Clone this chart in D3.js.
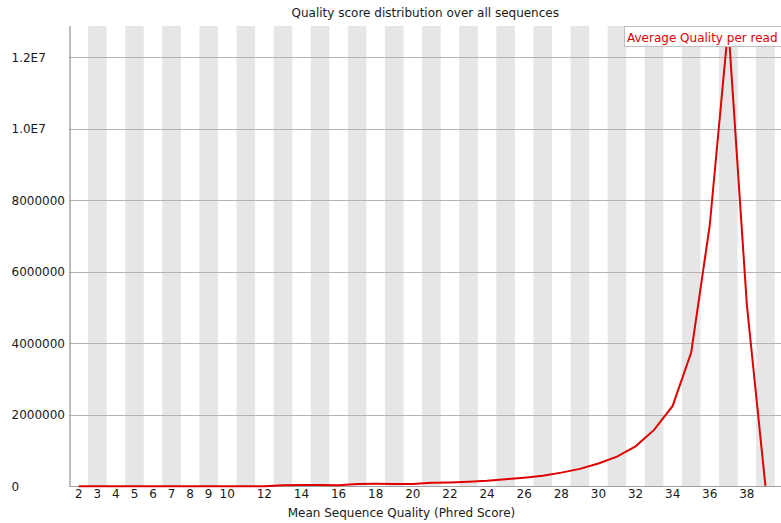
<!DOCTYPE html>
<html>
<head>
<meta charset="utf-8">
<script src="https://cdn.jsdelivr.net/npm/d3@7/dist/d3.min.js"></script>
<style>
  html, body { margin: 0; padding: 0; background: #fff; }
  svg { display: block; font-family: "DejaVu Sans", sans-serif; }
</style>
</head>
<body>
<svg id="chart" width="781" height="523"></svg>
<script>
// Mean Phred quality per read (x categories)
const qualities = ["2","3","4","5","6","7","8","9","10","11","12","13","14","15","16","17","18","19","20",
  "21","22","23","24","25","26","27","28","29","30","31","32","33","34","35","36","37","38","39"];

// Number of reads having each mean quality
const readCounts = [2000, 1500, 1200, 1500, 1800, 2000, 2500, 3000, 3500, 4500, 6000,
  35000, 38000, 36000, 30000, 70000, 72000, 70000, 68000,
  100000, 110000, 128000, 155000, 200000, 245000, 295000, 385000, 490000, 640000,
  830000, 1120000, 1580000, 2250000, 3740000, 7300000, 12870000, 5070000, 15000];

// Labels shown under the x axis
const xTickLabels = ["2","3","4","5","6","7","8","9","10","12","14","16","18","20",
  "22","24","26","28","30","32","34","36","38"];

// Y axis tick values
const yTickValues = [0, 2000000, 4000000, 6000000, 8000000, 10000000, 12000000];

const chartTitle = "Quality score distribution over all sequences";
const xAxisTitle = "Mean Sequence Quality (Phred Score)";
const seriesName = "Average Quality per read";

const W = 781, H = 523;
const plotLeft = 69.5, plotRight = 774.7, plotTop = 26, plotBottom = 486.4;

const svg = d3.select("#chart");

const x = d3.scaleBand().domain(qualities).range([plotLeft, plotRight]).padding(0);
const y = d3.scaleLinear().domain([0, d3.max(readCounts)]).range([plotBottom, plotTop]);

// alternating background stripes
svg.append("g")
  .selectAll("rect")
  .data(qualities.filter((d, i) => i % 2 === 1))
  .join("rect")
  .attr("x", d => x(d))
  .attr("y", plotTop)
  .attr("width", x.bandwidth())
  .attr("height", plotBottom - plotTop)
  .attr("fill", "#e6e6e6");

// horizontal grid lines
svg.append("g")
  .selectAll("line")
  .data(yTickValues.filter(v => v > 0))
  .join("line")
  .attr("x1", plotLeft)
  .attr("x2", W)
  .attr("y1", d => Math.round(y(d)) + 0.5)
  .attr("y2", d => Math.round(y(d)) + 0.5)
  .attr("stroke", "#b4b4b4")
  .attr("stroke-width", 1);

// y tick labels, left aligned
const fmtY = v => v >= 10000000 ? (v / 10000000).toFixed(1) + "E7" : String(v);
svg.append("g")
  .selectAll("text")
  .data(yTickValues)
  .join("text")
  .attr("x", 11.5)
  .attr("y", d => y(d) + 4.5)
  .attr("font-size", 12)
  .attr("fill", "#1a1a1a")
  .text(fmtY);

// axis lines
svg.append("line")
  .attr("x1", plotLeft + 0.5).attr("x2", plotLeft + 0.5)
  .attr("y1", plotTop).attr("y2", plotBottom)
  .attr("stroke", "#7a7a7a").attr("stroke-width", 1);
svg.append("line")
  .attr("x1", plotLeft).attr("x2", W)
  .attr("y1", Math.round(plotBottom) + 0.5).attr("y2", Math.round(plotBottom) + 0.5)
  .attr("stroke", "#a0a0a0").attr("stroke-width", 1);

// x axis labels
const xAxis = d3.axisBottom(x).tickValues(xTickLabels).tickSize(0).tickPadding(0);
const gx = svg.append("g")
  .attr("transform", `translate(0,${plotBottom})`)
  .call(xAxis);
gx.select(".domain").remove();
gx.selectAll("text")
  .attr("dy", null)
  .attr("y", 12)
  .attr("font-size", 12)
  .attr("font-family", "DejaVu Sans, sans-serif")
  .attr("fill", "#1a1a1a");

// quality line
const line = d3.line()
  .x((d, i) => x(qualities[i]) + x.bandwidth() / 2)
  .y(d => y(d));
svg.append("path")
  .datum(readCounts)
  .attr("d", line)
  .attr("fill", "none")
  .attr("stroke", "#e00000")
  .attr("stroke-width", 2)
  .attr("stroke-linejoin", "miter");

// title
svg.append("text")
  .attr("x", (plotLeft + W) / 2)
  .attr("y", 17)
  .attr("text-anchor", "middle")
  .attr("font-size", 12)
  .attr("fill", "#1a1a1a")
  .text(chartTitle);

// x axis title
svg.append("text")
  .attr("x", 401.5)
  .attr("y", 516.5)
  .attr("text-anchor", "middle")
  .attr("font-size", 12)
  .attr("fill", "#1a1a1a")
  .text(xAxisTitle);

// legend
const lg = svg.append("g");
lg.append("rect")
  .attr("x", 624.5).attr("y", 26.5)
  .attr("width", 160).attr("height", 20)
  .attr("fill", "#fff")
  .attr("stroke", "#c0c0c0");
lg.append("text")
  .attr("x", 627)
  .attr("y", 42)
  .attr("font-size", 12)
  .attr("fill", "#e00000")
  .text(seriesName);
</script>
</body>
</html>
